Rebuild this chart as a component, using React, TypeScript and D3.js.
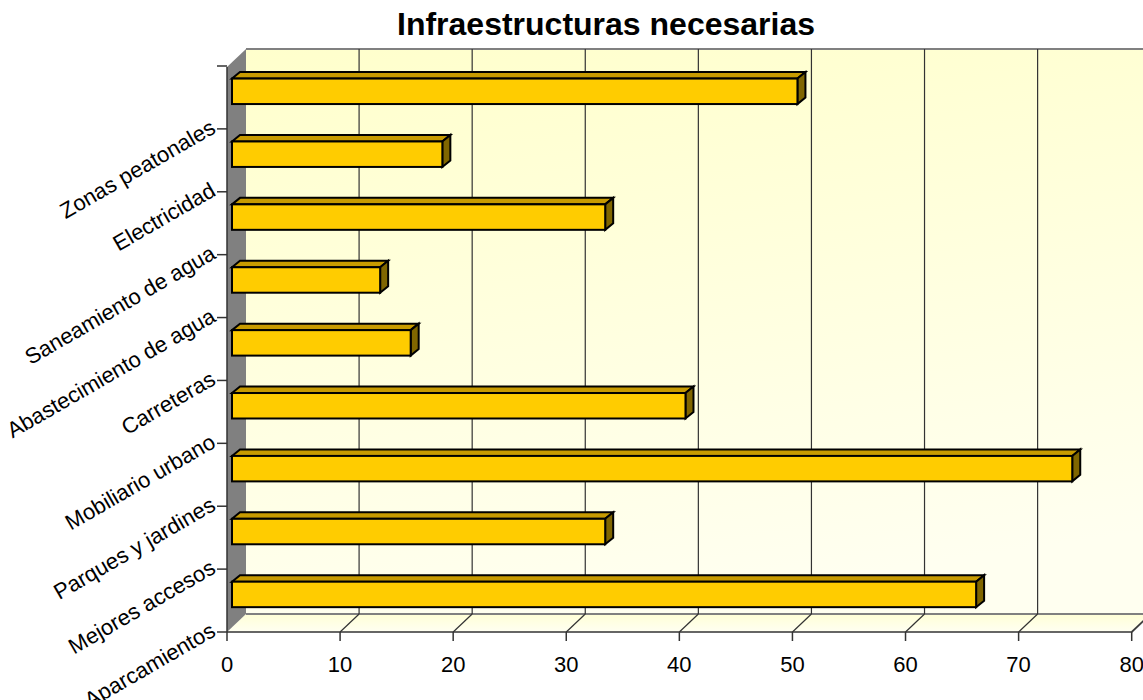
import React from "react";
import * as d3 from "d3";

const categories = [
  "Zonas peatonales",
  "Electricidad",
  "Saneamiento de agua",
  "Abastecimiento de agua",
  "Carreteras",
  "Mobiliario urbano",
  "Parques y jardines",
  "Mejores accesos",
  "Aparcamientos",
];
const values = [50, 18.6, 33, 13.1, 15.8, 40.1, 74.3, 33, 65.8];
const xTicks = [0, 10, 20, 30, 40, 50, 60, 70, 80];
const title = "Infraestructuras necesarias";

export default function App() {
  const W = 1143, H = 700;
  const frontY = 632, backY = 614, topBack = 49, topFront = 67;
  const dX = 19;
  const x = d3.scaleLinear().domain([0, 80]).range([227, 1131.7]);
  const y = d3.scaleBand<string>().domain(categories).range([topFront - 1, frontY]).padding(0);
  const bw = y.bandwidth();
  const barOff = 5; // depth offset of bar front
  const bdx = 8, bdy = 6.5;
  const font = "Arial, 'Liberation Sans', sans-serif";
  const x0 = x(0);
  const x80 = x(80);

  return (
    <svg width={W} height={H} style={{ position: "absolute", left: 0, top: 0, background: "#fff" }}>
      <defs>
        <linearGradient id="wallGrad" x1="0" y1="0" x2="0.3" y2="1">
          <stop offset="0" stopColor="#FFFFCC" />
          <stop offset="1" stopColor="#FFFFF0" />
        </linearGradient>
        <linearGradient id="floorGrad" x1="0" y1="0" x2="0" y2="1">
          <stop offset="0" stopColor="#FFFFD6" />
          <stop offset="1" stopColor="#FFFFF2" />
        </linearGradient>
      </defs>
      <text x={606} y={35} textAnchor="middle" fontFamily={font} fontWeight="bold" fontSize={32} fill="#000">
        {title}
      </text>
      {/* back wall */}
      <rect x={x0 + dX} y={topBack} width={W} height={backY - topBack} fill="url(#wallGrad)" />
      {/* floor */}
      <polygon
        points={`${x0},${frontY} ${x80},${frontY} ${x80 + dX},${backY} ${x0 + dX},${backY}`}
        fill="url(#floorGrad)"
      />
      {/* left wall */}
      <polygon
        points={`${x0},${topFront} ${x0 + dX},${topBack} ${x0 + dX},${backY} ${x0},${frontY}`}
        fill="#808080"
      />
      {/* back wall top edge and bottom edge */}
      <line x1={x0 + dX} x2={W} y1={topBack} y2={topBack} stroke="#808080" strokeWidth={2} />
      <line x1={x0 + dX} x2={W} y1={backY} y2={backY} stroke="#808080" strokeWidth={2} />
      <line x1={x80} x2={x80 + dX} y1={frontY} y2={backY} stroke="#808080" strokeWidth={2} />
      {/* gridlines */}
      {xTicks.slice(1).map((t) => (
        <g key={"g" + t}>
          <line x1={x(t) + dX} x2={x(t) + dX} y1={topBack} y2={backY} stroke="#333" strokeWidth={1.2} />
          <line x1={x(t)} x2={x(t) + dX} y1={frontY} y2={backY} stroke="#333" strokeWidth={1.2} />
        </g>
      ))}
      {/* bars */}
      {categories.map((c, i) => {
        const v = values[i];
        const top = (y(c) as number) + bw * 0.2;
        const bot = (y(c) as number) + bw * 0.605;
        const xl = x(0) + barOff;
        const xr = x(v) + barOff;
        return (
          <g key={c} stroke="#000" strokeWidth={2} strokeLinejoin="miter">
            <polygon
              points={`${xl},${top} ${xl + bdx},${top - bdy} ${xr + bdx},${top - bdy} ${xr},${top}`}
              fill="#C89B00"
            />
            <polygon
              points={`${xr},${top} ${xr + bdx},${top - bdy} ${xr + bdx},${bot - bdy} ${xr},${bot}`}
              fill="#806600"
            />
            <rect x={xl} y={top} width={xr - xl} height={bot - top} fill="#FFCC00" />
          </g>
        );
      })}
      {/* axes */}
      <line x1={x0} x2={x80} y1={frontY} y2={frontY} stroke="#333" strokeWidth={1.5} />
      <line x1={x0} x2={x0} y1={topFront} y2={frontY} stroke="#333" strokeWidth={1.5} />
      {xTicks.map((t) => (
        <g key={"t" + t}>
          <line x1={x(t)} x2={x(t)} y1={frontY} y2={frontY + 9} stroke="#333" strokeWidth={1.5} />
          <text x={x(t)} y={672} textAnchor="middle" fontFamily={font} fontSize={22} fill="#000">
            {t}
          </text>
        </g>
      ))}
      {[categories[0], ...categories].map((c, i) => {
        const ty = i === 0 ? (y(c) as number) : (y(c) as number) + bw;
        return <line key={"yt" + i} x1={x0 - 10} x2={x0} y1={ty} y2={ty} stroke="#333" strokeWidth={1.5} />;
      })}
      {categories.map((c) => {
        const ty = (y(c) as number) + bw;
        return (
          <text
            key={"l" + c}
            transform={`translate(${x0 - 10},${ty + 3}) rotate(-30)`}
            textAnchor="end"
            fontFamily={font}
            fontSize={22}
            fill="#000"
          >
            {c}
          </text>
        );
      })}
    </svg>
  );
}
